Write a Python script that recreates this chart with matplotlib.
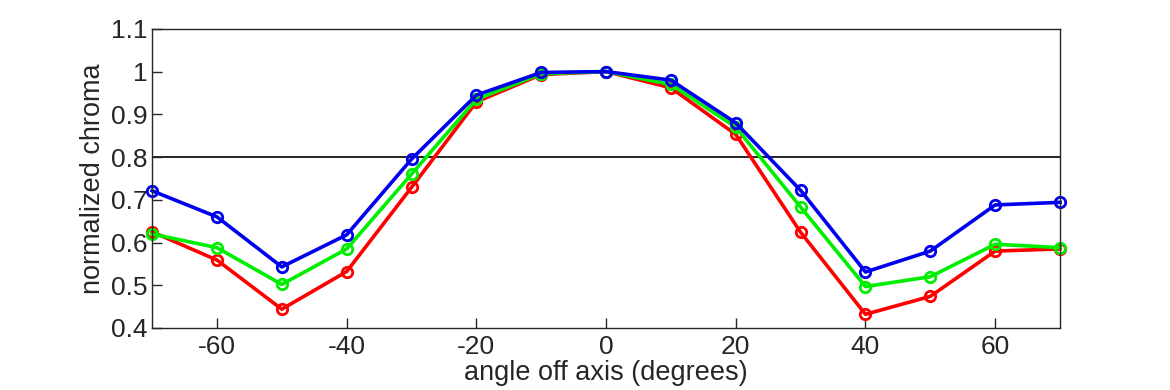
import matplotlib
matplotlib.use("Agg")
import matplotlib.pyplot as plt

angles = [-70, -60, -50, -40, -30, -20, -10, 0, 10, 20, 30, 40, 50, 60, 70]
red = [0.625, 0.559, 0.444, 0.532, 0.729, 0.929, 0.993, 1.0, 0.962, 0.853, 0.624, 0.432, 0.474, 0.580, 0.585]
green = [0.620, 0.588, 0.502, 0.585, 0.760, 0.935, 0.995, 1.0, 0.970, 0.870, 0.683, 0.497, 0.520, 0.596, 0.588]
blue = [0.721, 0.660, 0.543, 0.618, 0.795, 0.945, 0.998, 1.0, 0.980, 0.880, 0.722, 0.531, 0.580, 0.688, 0.694]
threshold = 0.8
xticks = [-60, -40, -20, 0, 20, 40, 60]
yticks = [0.4, 0.5, 0.6, 0.7, 0.8, 0.9, 1.0, 1.1]
ytick_labels = ["0.4", "0.5", "0.6", "0.7", "0.8", "0.9", "1", "1.1"]

plt.rcParams['font.family'] = ['Liberation Sans', 'DejaVu Sans']
fig = plt.figure(figsize=(11.7, 3.9), dpi=100)
ax = fig.add_axes([0.13, 0.159, 0.776, 0.767])

ax.axhline(threshold, color='black', linewidth=1.2, zorder=1)
for vals, col in [(red, '#ff0000'), (green, '#00ee00'), (blue, '#0000ee')]:
    ax.plot(angles, vals, color=col, linewidth=2.6, marker='o', markersize=7.5,
            markerfacecolor='none', markeredgewidth=2, zorder=2, clip_on=False)

ax.set_xlim(-70, 70)
ax.set_ylim(0.4, 1.1)
ax.set_xticks(xticks)
ax.set_xticklabels([str(t) for t in xticks])
ax.set_yticks(yticks)
ax.set_yticklabels(ytick_labels)
ax.tick_params(direction='in', length=7, labelsize=19, colors='#262626', width=1, pad=3)
ax.tick_params(axis='x', pad=5)
for s in ax.spines.values():
    s.set_color('#262626')
    s.set_linewidth(1)
ax.set_xlabel('angle off axis (degrees)', fontsize=19.5, color='#262626', labelpad=1)
ax.set_ylabel('normalized chroma', fontsize=19.5, color='#262626', labelpad=4)

fig.savefig('out.png', dpi=100)
